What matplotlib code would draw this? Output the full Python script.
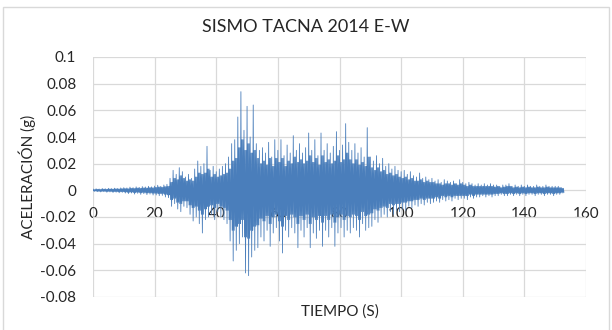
import numpy as np
import matplotlib.pyplot as plt
from matplotlib.patches import Rectangle

# peak values per second, in milli-g (t = 0..152 s)
pos_mg = [1.0, 1.2, 1.0, 1.4, 1.2, 1.5, 1.3, 1.6, 1.4, 1.8,
          2.0, 1.8, 2.4, 2.0, 2.6, 2.2, 2.8, 2.5, 3.0, 2.6,
          3.2, 3.8, 3.0, 4.0, 4.5, 9, 15, 12, 17, 14,
          10, 12, 9, 16, 22, 18, 20, 33, 15, 18,
          14, 16, 18, 20, 25, 35, 38, 55, 74, 45,
          63, 40, 64, 35, 30, 32, 28, 36, 25, 38,
          30, 38, 26, 34, 28, 41, 30, 35, 28, 32,
          43, 30, 38, 26, 43, 30, 35, 28, 33, 44,
          30, 34, 50, 36, 30, 35, 28, 32, 25, 47,
          25, 22, 26, 20, 24, 18, 20, 16, 18, 15,
          14, 15, 12, 14, 11, 10, 13, 9, 10, 8,
          9, 7, 8, 6, 8, 7, 6, 7, 5, 8,
          6, 5, 6, 5, 4, 5, 4, 5, 4, 5,
          4, 4, 3, 4, 4, 5, 3, 4, 3, 4,
          3, 4, 3, 3, 4, 3, 3, 4, 3, 3,
          3, 3, 2]
neg_mg = [-0.8, -1.0, -1.2, -1.0, -1.4, -1.2, -1.6, -1.4, -1.8, -1.5,
          -2.0, -2.4, -2.0, -2.8, -2.2, -3.0, -2.5, -3.2, -2.8, -3.5,
          -3.5, -4.0, -3.8, -5.0, -5.5, -12, -10, -14, -16, -12,
          -13, -18, -23, -20, -25, -32, -22, -20, -18, -22,
          -16, -20, -22, -25, -38, -53, -45, -40, -35, -62,
          -64, -50, -45, -43, -35, -38, -30, -42, -32, -28,
          -38, -47, -30, -35, -28, -32, -43, -30, -35, -28,
          -43, -32, -36, -30, -42, -30, -35, -28, -42, -32,
          -28, -35, -30, -32, -28, -30, -35, -25, -30, -28,
          -27, -22, -24, -20, -18, -20, -16, -18, -15, -16,
          -14, -15, -12, -13, -11, -12, -10, -11, -9, -10,
          -9, -8, -9, -7, -8, -7, -8, -6, -7, -6,
          -6, -7, -5, -6, -5, -5, -4, -5, -4, -5,
          -4, -4, -3, -4, -4, -3, -4, -3, -4, -3,
          -4, -3, -3, -4, -3, -3, -4, -3, -3, -4,
          -3, -3, -2]
# typical (dense band) swings per second, milli-g
core_pos_mg = [0.6, 0.8, 0.7, 0.9, 0.8, 1.0, 0.9, 1.1, 1.0, 1.2,
               1.3, 1.2, 1.5, 1.4, 1.7, 1.5, 1.8, 1.7, 2.0, 1.9,
               2.2, 2.5, 2.3, 2.8, 3.0, 6, 9, 8, 11, 9,
               7, 8, 7, 10, 13, 12, 13, 16, 10, 12,
               10, 11, 12, 13, 16, 22, 24, 32, 38, 30,
               35, 28, 30, 24, 20, 22, 19, 24, 18, 24,
               21, 24, 18, 22, 20, 25, 21, 23, 20, 22,
               26, 21, 24, 19, 26, 21, 23, 20, 22, 26,
               21, 23, 28, 23, 20, 23, 19, 21, 18, 25,
               17, 15, 17, 14, 15, 12, 13, 11, 12, 10,
               9, 10, 8, 9, 7, 7, 8, 6, 7, 6,
               6, 5, 5, 4, 5, 5, 4, 5, 4, 5,
               4, 3, 4, 3, 3, 3, 3, 3, 3, 3,
               2.5, 3, 2, 2.5, 3, 3, 2, 2.5, 2, 2.5,
               2, 2.5, 2, 2, 2.5, 2, 2, 2.5, 2, 2,
               2, 2, 1.5]
core_neg_mg = [-0.5, -0.7, -0.8, -0.7, -0.9, -0.8, -1.0, -0.9, -1.1, -1.0,
               -1.2, -1.5, -1.3, -1.7, -1.4, -1.8, -1.6, -2.0, -1.8, -2.2,
               -2.2, -2.5, -2.4, -3.0, -3.4, -7, -6, -9, -10, -8,
               -8, -11, -13, -12, -15, -18, -14, -12, -11, -13,
               -10, -12, -13, -15, -22, -30, -27, -25, -22, -35,
               -36, -30, -27, -26, -21, -23, -19, -25, -20, -18,
               -23, -27, -19, -22, -18, -20, -25, -19, -22, -18,
               -25, -20, -22, -19, -24, -19, -22, -18, -24, -20,
               -18, -22, -19, -20, -18, -19, -22, -16, -19, -18,
               -17, -14, -15, -13, -12, -13, -10, -11, -10, -10,
               -9, -9, -8, -8, -7, -7, -6, -7, -6, -6,
               -6, -5, -6, -4, -5, -4, -5, -4, -4, -4,
               -4, -4, -3, -4, -3, -3, -3, -3, -3, -3,
               -2.5, -2.5, -2, -2.5, -2.5, -2, -2.5, -2, -2.5, -2,
               -2.5, -2, -2, -2.5, -2, -2, -2.5, -2, -2, -2.5,
               -2, -2, -1.5]

# six samples per second: peak up, band down, band up, peak down, band up, band down
sec = np.arange(len(pos_mg))
t = (sec[:, None] + np.arange(6)[None, :] / 6.0).ravel()
acc = np.column_stack([pos_mg, core_neg_mg, core_pos_mg,
                       neg_mg, core_pos_mg, core_neg_mg]).ravel() / 1000.0

plt.rcParams['font.family'] = ['Lato', 'DejaVu Sans']
txt = '#262626'

fig = plt.figure(figsize=(6.12, 3.30), dpi=100)
ax = fig.add_axes([93 / 612, 1 - 297 / 330, (586 - 93) / 612, (297 - 57) / 330])

ax.plot(t, acc, color='#4a7ebb', linewidth=0.6)

ax.set_xlim(0, 160)
ax.set_ylim(-0.08, 0.1)
ax.set_xticks(np.arange(0, 161, 20))
ax.set_yticks(np.arange(-0.08, 0.101, 0.02))
ax.set_yticklabels(['-0.08', '-0.06', '-0.04', '-0.02', '0', '0.02', '0.04', '0.06', '0.08', '0.1'])
ax.grid(True, color='#d9d9d9', linewidth=0.9)
ax.set_axisbelow(True)
for s in ax.spines.values():
    s.set_visible(False)

# x labels sit under the zero line, like Excel
ax.spines['bottom'].set_position(('data', 0))
ax.tick_params(axis='x', length=0, pad=12, labelsize=11, labelcolor=txt)
ax.tick_params(axis='y', length=0, pad=12, labelsize=11, labelcolor=txt)

fig.text(306 / 612, 1 - 27 / 330, 'SISMO TACNA 2014 E-W', ha='center', va='center',
         fontsize=13, color=txt)
fig.text(340 / 612, 1 - 312 / 330, 'TIEMPO (S)', ha='center', va='center',
         fontsize=11, color=txt)
fig.text(27 / 612, 1 - 177 / 330, 'ACELERACIÓN (g)', ha='center', va='center',
         rotation=90, fontsize=11, color=txt)

# chart frame
fig.patches.append(Rectangle((3 / 612, -0.01), 606 / 612, 1 - 7 / 330 + 0.01,
                             transform=fig.transFigure, fill=False,
                             edgecolor='#d9d9d9', linewidth=1))

fig.savefig('out.png', dpi=100)
